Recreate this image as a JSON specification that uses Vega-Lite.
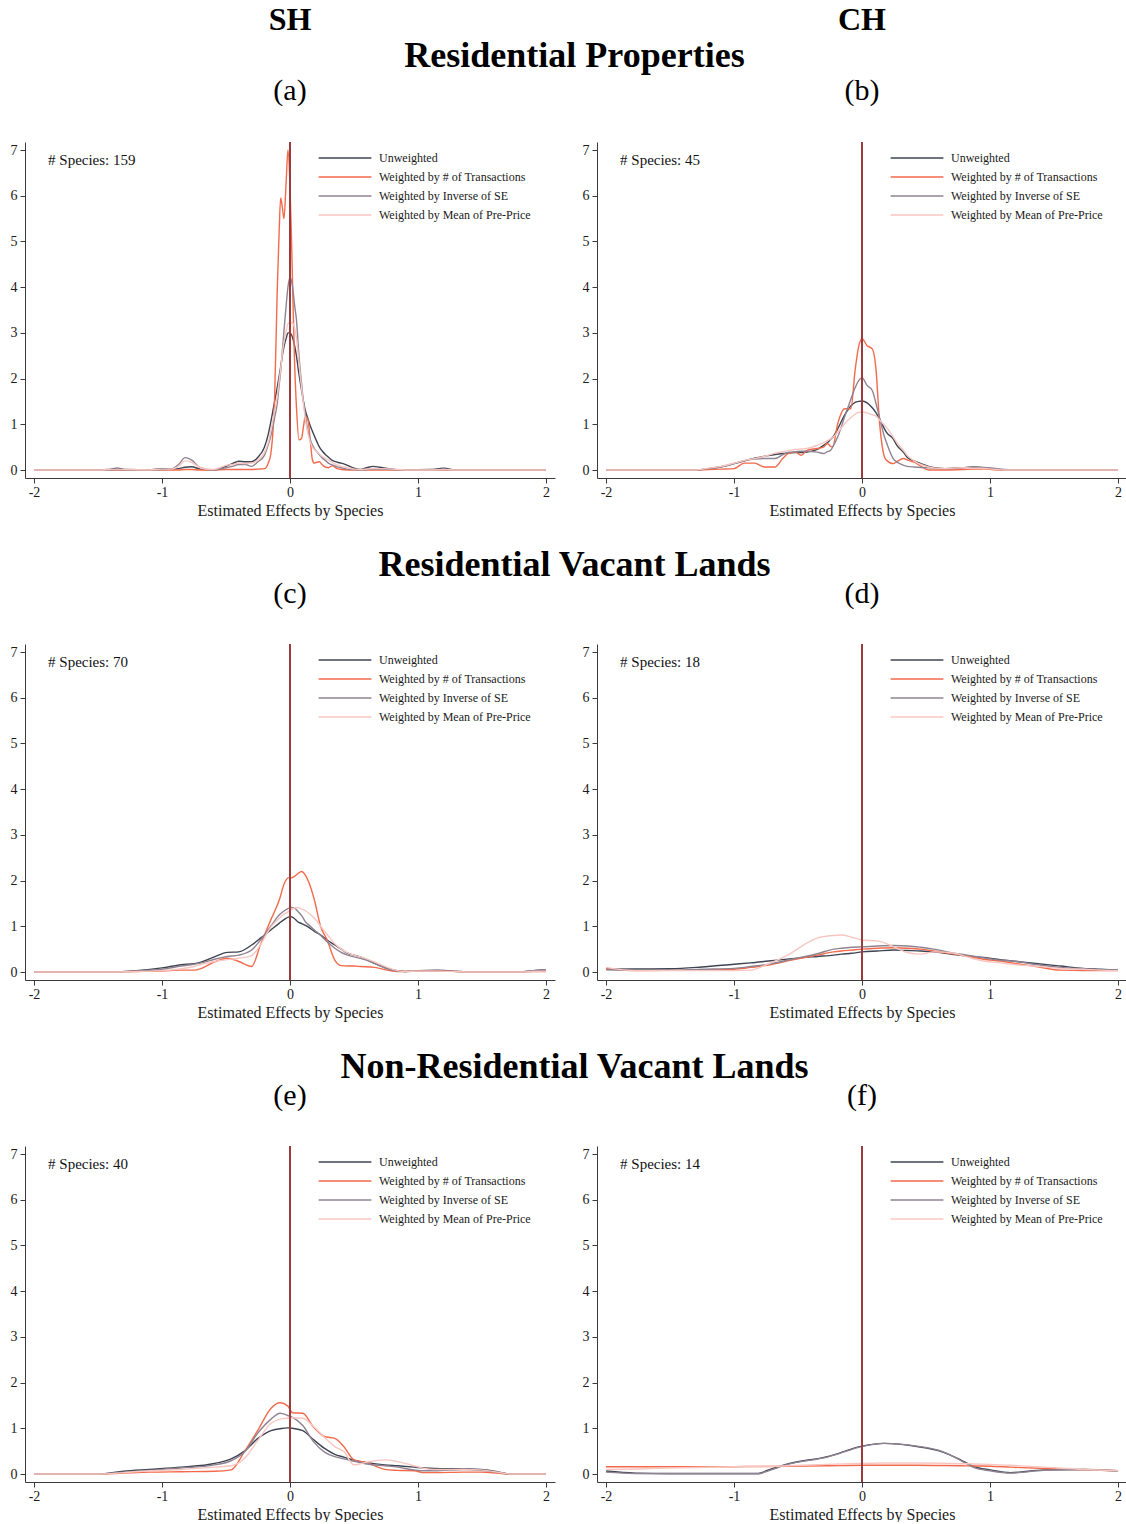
{
"$schema": "https://vega.github.io/schema/vega-lite/v6.json",
"background": "white",
"padding": {"left": 10, "top": 4, "right": 0, "bottom": 0},
"datasets": {
"info": [{"p":"a","label":"# Species: 159"},{"p":"b","label":"# Species: 45"},{"p":"c","label":"# Species: 70"},{"p":"d","label":"# Species: 18"},{"p":"e","label":"# Species: 40"},{"p":"f","label":"# Species: 14"}],
"dens": [
{"p":"a","x":-2,"u":0,"t":0,"i":0,"m":0},
{"p":"a","x":-1.5,"u":0,"t":0,"i":0,"m":0},
{"p":"a","x":-1.42,"u":0.01,"t":0,"i":0,"m":0.01},
{"p":"a","x":-1.35,"u":0.04,"t":0,"i":0.01,"m":0.02},
{"p":"a","x":-1.28,"u":0.01,"t":0,"i":0,"m":0.01},
{"p":"a","x":-1.1,"u":0,"t":0,"i":0,"m":0},
{"p":"a","x":-1.0,"u":0.03,"t":0,"i":0.01,"m":0.02},
{"p":"a","x":-0.93,"u":0.02,"t":0,"i":0.02,"m":0.02},
{"p":"a","x":-0.87,"u":0.03,"t":0,"i":0.12,"m":0.08},
{"p":"a","x":-0.82,"u":0.06,"t":0.01,"i":0.27,"m":0.2},
{"p":"a","x":-0.77,"u":0.07,"t":0.01,"i":0.22,"m":0.17},
{"p":"a","x":-0.7,"u":0.02,"t":0,"i":0.05,"m":0.05},
{"p":"a","x":-0.6,"u":0,"t":0,"i":0,"m":0.01},
{"p":"a","x":-0.5,"u":0.08,"t":0.01,"i":0.05,"m":0.1},
{"p":"a","x":-0.45,"u":0.14,"t":0.01,"i":0.08,"m":0.12},
{"p":"a","x":-0.4,"u":0.19,"t":0.01,"i":0.12,"m":0.15},
{"p":"a","x":-0.35,"u":0.18,"t":0.01,"i":0.12,"m":0.14},
{"p":"a","x":-0.3,"u":0.18,"t":0.01,"i":0.08,"m":0.15},
{"p":"a","x":-0.25,"u":0.28,"t":0.02,"i":0.18,"m":0.22},
{"p":"a","x":-0.2,"u":0.5,"t":0.03,"i":0.32,"m":0.38},
{"p":"a","x":-0.17,"u":0.78,"t":0.15,"i":0.55,"m":0.6},
{"p":"a","x":-0.15,"u":1.05,"t":0.35,"i":0.75,"m":0.85},
{"p":"a","x":-0.12,"u":1.5,"t":1.6,"i":1.15,"m":1.3},
{"p":"a","x":-0.1,"u":1.8,"t":3.9,"i":1.45,"m":1.6},
{"p":"a","x":-0.085,"u":2.05,"t":5.2,"i":1.85,"m":1.95},
{"p":"a","x":-0.073,"u":2.25,"t":5.95,"i":2.15,"m":2.2},
{"p":"a","x":-0.06,"u":2.5,"t":5.75,"i":2.6,"m":2.55},
{"p":"a","x":-0.047,"u":2.7,"t":5.5,"i":3.05,"m":2.8},
{"p":"a","x":-0.03,"u":2.88,"t":6.3,"i":3.6,"m":3.05},
{"p":"a","x":-0.016,"u":3.0,"t":7.0,"i":4.0,"m":3.2},
{"p":"a","x":0,"u":3.0,"t":6.2,"i":4.22,"m":3.22},
{"p":"a","x":0.01,"u":2.97,"t":5.25,"i":4.15,"m":3.22},
{"p":"a","x":0.025,"u":2.85,"t":3.5,"i":3.9,"m":3.2},
{"p":"a","x":0.036,"u":2.72,"t":2.33,"i":3.6,"m":3.1},
{"p":"a","x":0.05,"u":2.5,"t":1.4,"i":3.3,"m":2.9},
{"p":"a","x":0.07,"u":2.1,"t":0.66,"i":2.5,"m":2.35},
{"p":"a","x":0.09,"u":1.75,"t":0.69,"i":1.9,"m":1.8},
{"p":"a","x":0.105,"u":1.5,"t":0.95,"i":1.5,"m":1.45},
{"p":"a","x":0.12,"u":1.3,"t":1.17,"i":1.2,"m":1.1},
{"p":"a","x":0.14,"u":1.12,"t":1.1,"i":0.85,"m":0.8},
{"p":"a","x":0.16,"u":0.95,"t":0.6,"i":0.65,"m":0.6},
{"p":"a","x":0.175,"u":0.85,"t":0.22,"i":0.55,"m":0.5},
{"p":"a","x":0.19,"u":0.75,"t":0.15,"i":0.47,"m":0.45},
{"p":"a","x":0.21,"u":0.62,"t":0.17,"i":0.4,"m":0.4},
{"p":"a","x":0.23,"u":0.5,"t":0.18,"i":0.33,"m":0.35},
{"p":"a","x":0.25,"u":0.42,"t":0.12,"i":0.27,"m":0.3},
{"p":"a","x":0.28,"u":0.33,"t":0.06,"i":0.2,"m":0.25},
{"p":"a","x":0.3,"u":0.28,"t":0.05,"i":0.15,"m":0.22},
{"p":"a","x":0.33,"u":0.21,"t":0.09,"i":0.11,"m":0.16},
{"p":"a","x":0.37,"u":0.17,"t":0.03,"i":0.07,"m":0.11},
{"p":"a","x":0.4,"u":0.15,"t":0.01,"i":0.05,"m":0.08},
{"p":"a","x":0.45,"u":0.1,"t":0,"i":0.02,"m":0.05},
{"p":"a","x":0.5,"u":0.04,"t":0,"i":0.01,"m":0.02},
{"p":"a","x":0.55,"u":0.01,"t":0,"i":0,"m":0.01},
{"p":"a","x":0.6,"u":0.05,"t":0,"i":0.01,"m":0.02},
{"p":"a","x":0.65,"u":0.08,"t":0,"i":0.02,"m":0.03},
{"p":"a","x":0.7,"u":0.06,"t":0,"i":0.02,"m":0.03},
{"p":"a","x":0.8,"u":0.02,"t":0,"i":0.01,"m":0.02},
{"p":"a","x":0.9,"u":0,"t":0,"i":0,"m":0},
{"p":"a","x":1.1,"u":0.01,"t":0,"i":0,"m":0},
{"p":"a","x":1.2,"u":0.04,"t":0,"i":0.01,"m":0.01},
{"p":"a","x":1.3,"u":0,"t":0,"i":0,"m":0},
{"p":"a","x":2,"u":0,"t":0,"i":0,"m":0},
{"p":"b","x":-2,"u":0,"t":0,"i":0,"m":0},
{"p":"b","x":-1.3,"u":0,"t":0,"i":0,"m":0},
{"p":"b","x":-1.2,"u":0.03,"t":0.01,"i":0.03,"m":0.04},
{"p":"b","x":-1.1,"u":0.07,"t":0.02,"i":0.07,"m":0.08},
{"p":"b","x":-1.0,"u":0.14,"t":0.03,"i":0.14,"m":0.15},
{"p":"b","x":-0.92,"u":0.2,"t":0.15,"i":0.2,"m":0.21},
{"p":"b","x":-0.84,"u":0.26,"t":0.15,"i":0.24,"m":0.25},
{"p":"b","x":-0.76,"u":0.3,"t":0.065,"i":0.25,"m":0.3},
{"p":"b","x":-0.68,"u":0.34,"t":0.065,"i":0.25,"m":0.37},
{"p":"b","x":-0.62,"u":0.36,"t":0.25,"i":0.33,"m":0.4},
{"p":"b","x":-0.57,"u":0.37,"t":0.37,"i":0.39,"m":0.43},
{"p":"b","x":-0.52,"u":0.38,"t":0.39,"i":0.4,"m":0.45},
{"p":"b","x":-0.475,"u":0.38,"t":0.32,"i":0.41,"m":0.46},
{"p":"b","x":-0.43,"u":0.39,"t":0.43,"i":0.41,"m":0.47},
{"p":"b","x":-0.35,"u":0.45,"t":0.47,"i":0.39,"m":0.54},
{"p":"b","x":-0.3,"u":0.54,"t":0.5,"i":0.36,"m":0.6},
{"p":"b","x":-0.27,"u":0.6,"t":0.58,"i":0.4,"m":0.64},
{"p":"b","x":-0.245,"u":0.67,"t":0.52,"i":0.43,"m":0.68},
{"p":"b","x":-0.23,"u":0.71,"t":0.5,"i":0.5,"m":0.71},
{"p":"b","x":-0.19,"u":0.9,"t":1.01,"i":0.72,"m":0.82},
{"p":"b","x":-0.136,"u":1.2,"t":1.34,"i":1.16,"m":1.01},
{"p":"b","x":-0.087,"u":1.4,"t":1.34,"i":1.55,"m":1.15},
{"p":"b","x":-0.054,"u":1.48,"t":2.18,"i":1.8,"m":1.22},
{"p":"b","x":-0.027,"u":1.5,"t":2.69,"i":1.95,"m":1.26},
{"p":"b","x":0,"u":1.51,"t":2.87,"i":2.02,"m":1.27},
{"p":"b","x":0.04,"u":1.47,"t":2.72,"i":1.85,"m":1.25},
{"p":"b","x":0.08,"u":1.36,"t":2.65,"i":1.74,"m":1.21},
{"p":"b","x":0.11,"u":1.25,"t":2.18,"i":1.45,"m":1.18},
{"p":"b","x":0.136,"u":1.12,"t":1.08,"i":1.16,"m":1.1},
{"p":"b","x":0.176,"u":0.9,"t":0.28,"i":0.72,"m":0.98},
{"p":"b","x":0.19,"u":0.83,"t":0.22,"i":0.61,"m":0.94},
{"p":"b","x":0.244,"u":0.68,"t":0.14,"i":0.25,"m":0.72},
{"p":"b","x":0.27,"u":0.55,"t":0.18,"i":0.18,"m":0.61},
{"p":"b","x":0.326,"u":0.38,"t":0.25,"i":0.1,"m":0.42},
{"p":"b","x":0.353,"u":0.28,"t":0.22,"i":0.08,"m":0.32},
{"p":"b","x":0.407,"u":0.2,"t":0.17,"i":0.065,"m":0.2},
{"p":"b","x":0.46,"u":0.14,"t":0.08,"i":0.055,"m":0.12},
{"p":"b","x":0.52,"u":0.08,"t":0,"i":0.05,"m":0.065},
{"p":"b","x":0.57,"u":0.05,"t":0,"i":0.04,"m":0.04},
{"p":"b","x":0.65,"u":0.03,"t":0,"i":0.03,"m":0.03},
{"p":"b","x":0.79,"u":0.05,"t":0.01,"i":0.05,"m":0.05},
{"p":"b","x":0.87,"u":0.065,"t":0.02,"i":0.065,"m":0.04},
{"p":"b","x":0.98,"u":0.04,"t":0.02,"i":0.05,"m":0.03},
{"p":"b","x":1.05,"u":0.02,"t":0,"i":0.03,"m":0.01},
{"p":"b","x":1.11,"u":0,"t":0,"i":0.01,"m":0},
{"p":"b","x":1.2,"u":0,"t":0,"i":0,"m":0},
{"p":"b","x":2,"u":0,"t":0,"i":0,"m":0},
{"p":"c","x":-2,"u":0,"t":0,"i":0,"m":0},
{"p":"c","x":-1.4,"u":0,"t":0,"i":0,"m":0},
{"p":"c","x":-1.2,"u":0.03,"t":0.01,"i":0.02,"m":0.01},
{"p":"c","x":-1.0,"u":0.09,"t":0.02,"i":0.06,"m":0.03},
{"p":"c","x":-0.85,"u":0.16,"t":0.04,"i":0.13,"m":0.07},
{"p":"c","x":-0.75,"u":0.18,"t":0.04,"i":0.17,"m":0.12},
{"p":"c","x":-0.69,"u":0.22,"t":0.08,"i":0.2,"m":0.17},
{"p":"c","x":-0.59,"u":0.33,"t":0.22,"i":0.28,"m":0.23},
{"p":"c","x":-0.49,"u":0.43,"t":0.3,"i":0.34,"m":0.27},
{"p":"c","x":-0.4,"u":0.44,"t":0.23,"i":0.37,"m":0.3},
{"p":"c","x":-0.3,"u":0.59,"t":0.12,"i":0.48,"m":0.36},
{"p":"c","x":-0.23,"u":0.74,"t":0.6,"i":0.7,"m":0.6},
{"p":"c","x":-0.15,"u":0.92,"t":1.14,"i":1.0,"m":0.98},
{"p":"c","x":-0.083,"u":1.07,"t":1.58,"i":1.25,"m":1.18},
{"p":"c","x":-0.044,"u":1.15,"t":1.94,"i":1.34,"m":1.27},
{"p":"c","x":-0.013,"u":1.2,"t":2.06,"i":1.39,"m":1.32},
{"p":"c","x":0.01,"u":1.21,"t":2.06,"i":1.41,"m":1.36},
{"p":"c","x":0.034,"u":1.17,"t":2.09,"i":1.4,"m":1.4},
{"p":"c","x":0.06,"u":1.1,"t":2.15,"i":1.33,"m":1.41},
{"p":"c","x":0.09,"u":1.06,"t":2.2,"i":1.24,"m":1.38},
{"p":"c","x":0.12,"u":1.02,"t":2.12,"i":1.1,"m":1.34},
{"p":"c","x":0.15,"u":0.97,"t":1.94,"i":1.02,"m":1.28},
{"p":"c","x":0.19,"u":0.89,"t":1.58,"i":0.92,"m":1.18},
{"p":"c","x":0.24,"u":0.81,"t":0.99,"i":0.8,"m":1.0},
{"p":"c","x":0.29,"u":0.7,"t":0.7,"i":0.66,"m":0.82},
{"p":"c","x":0.35,"u":0.59,"t":0.26,"i":0.52,"m":0.62},
{"p":"c","x":0.4,"u":0.5,"t":0.14,"i":0.43,"m":0.5},
{"p":"c","x":0.45,"u":0.41,"t":0.13,"i":0.37,"m":0.42},
{"p":"c","x":0.5,"u":0.37,"t":0.13,"i":0.33,"m":0.37},
{"p":"c","x":0.55,"u":0.33,"t":0.12,"i":0.3,"m":0.33},
{"p":"c","x":0.66,"u":0.19,"t":0.1,"i":0.19,"m":0.22},
{"p":"c","x":0.76,"u":0.08,"t":0.04,"i":0.07,"m":0.1},
{"p":"c","x":0.84,"u":0.03,"t":0.01,"i":0.02,"m":0.03},
{"p":"c","x":0.9,"u":0.01,"t":0.01,"i":0.01,"m":0.01},
{"p":"c","x":1.0,"u":0.03,"t":0.03,"i":0.02,"m":0.02},
{"p":"c","x":1.15,"u":0.04,"t":0.03,"i":0.02,"m":0.02},
{"p":"c","x":1.3,"u":0.02,"t":0.01,"i":0.01,"m":0.01},
{"p":"c","x":1.4,"u":0,"t":0,"i":0,"m":0},
{"p":"c","x":1.8,"u":0,"t":0,"i":0,"m":0},
{"p":"c","x":1.9,"u":0.03,"t":0.01,"i":0.03,"m":0.01},
{"p":"c","x":2.0,"u":0.05,"t":0.01,"i":0.05,"m":0.02},
{"p":"d","x":-2,"u":0.06,"t":0.08,"i":0.05,"m":0.1},
{"p":"d","x":-1.77,"u":0.065,"t":0.03,"i":0.04,"m":0.03},
{"p":"d","x":-1.5,"u":0.07,"t":0.035,"i":0.04,"m":0.03},
{"p":"d","x":-1.25,"u":0.11,"t":0.04,"i":0.06,"m":0.03},
{"p":"d","x":-1.0,"u":0.17,"t":0.06,"i":0.08,"m":0.03},
{"p":"d","x":-0.87,"u":0.2,"t":0.1,"i":0.12,"m":0.04},
{"p":"d","x":-0.73,"u":0.24,"t":0.15,"i":0.17,"m":0.18},
{"p":"d","x":-0.55,"u":0.29,"t":0.26,"i":0.28,"m":0.42},
{"p":"d","x":-0.48,"u":0.31,"t":0.3,"i":0.32,"m":0.55},
{"p":"d","x":-0.35,"u":0.34,"t":0.37,"i":0.4,"m":0.74},
{"p":"d","x":-0.22,"u":0.37,"t":0.44,"i":0.5,"m":0.8},
{"p":"d","x":-0.16,"u":0.39,"t":0.46,"i":0.52,"m":0.81},
{"p":"d","x":-0.08,"u":0.41,"t":0.48,"i":0.54,"m":0.76},
{"p":"d","x":0,"u":0.44,"t":0.5,"i":0.55,"m":0.7},
{"p":"d","x":0.12,"u":0.46,"t":0.52,"i":0.57,"m":0.68},
{"p":"d","x":0.25,"u":0.48,"t":0.53,"i":0.58,"m":0.55},
{"p":"d","x":0.36,"u":0.47,"t":0.52,"i":0.57,"m":0.42},
{"p":"d","x":0.46,"u":0.46,"t":0.5,"i":0.54,"m":0.39},
{"p":"d","x":0.56,"u":0.44,"t":0.46,"i":0.5,"m":0.44},
{"p":"d","x":0.72,"u":0.38,"t":0.39,"i":0.41,"m":0.41},
{"p":"d","x":0.82,"u":0.35,"t":0.35,"i":0.37,"m":0.33},
{"p":"d","x":0.95,"u":0.32,"t":0.28,"i":0.31,"m":0.24},
{"p":"d","x":1.08,"u":0.27,"t":0.24,"i":0.26,"m":0.2},
{"p":"d","x":1.21,"u":0.23,"t":0.18,"i":0.23,"m":0.16},
{"p":"d","x":1.34,"u":0.19,"t":0.13,"i":0.17,"m":0.13},
{"p":"d","x":1.55,"u":0.13,"t":0.04,"i":0.1,"m":0.08},
{"p":"d","x":1.73,"u":0.08,"t":0.03,"i":0.07,"m":0.06},
{"p":"d","x":1.86,"u":0.06,"t":0.03,"i":0.05,"m":0.04},
{"p":"d","x":2.0,"u":0.04,"t":0.03,"i":0.04,"m":0.03},
{"p":"e","x":-2,"u":0,"t":0,"i":0,"m":0},
{"p":"e","x":-1.5,"u":0,"t":0,"i":0,"m":0},
{"p":"e","x":-1.3,"u":0.06,"t":0.02,"i":0.04,"m":0.03},
{"p":"e","x":-1.1,"u":0.1,"t":0.04,"i":0.08,"m":0.07},
{"p":"e","x":-0.85,"u":0.15,"t":0.05,"i":0.13,"m":0.1},
{"p":"e","x":-0.59,"u":0.23,"t":0.06,"i":0.2,"m":0.15},
{"p":"e","x":-0.46,"u":0.33,"t":0.09,"i":0.29,"m":0.18},
{"p":"e","x":-0.356,"u":0.5,"t":0.49,"i":0.48,"m":0.34},
{"p":"e","x":-0.25,"u":0.78,"t":0.96,"i":0.9,"m":0.74},
{"p":"e","x":-0.148,"u":0.95,"t":1.44,"i":1.2,"m":1.11},
{"p":"e","x":-0.078,"u":0.99,"t":1.56,"i":1.33,"m":1.2},
{"p":"e","x":-0.018,"u":1.01,"t":1.49,"i":1.28,"m":1.22},
{"p":"e","x":0.02,"u":1.0,"t":1.34,"i":1.24,"m":1.23},
{"p":"e","x":0.1,"u":0.95,"t":1.33,"i":1.06,"m":1.22},
{"p":"e","x":0.18,"u":0.76,"t":1.04,"i":0.72,"m":1.05},
{"p":"e","x":0.27,"u":0.56,"t":0.82,"i":0.48,"m":0.8},
{"p":"e","x":0.35,"u":0.43,"t":0.78,"i":0.38,"m":0.6},
{"p":"e","x":0.42,"u":0.37,"t":0.6,"i":0.33,"m":0.49},
{"p":"e","x":0.5,"u":0.3,"t":0.31,"i":0.28,"m":0.2},
{"p":"e","x":0.6,"u":0.25,"t":0.25,"i":0.22,"m":0.26},
{"p":"e","x":0.74,"u":0.2,"t":0.1,"i":0.18,"m":0.31},
{"p":"e","x":0.84,"u":0.18,"t":0.08,"i":0.15,"m":0.27},
{"p":"e","x":0.97,"u":0.15,"t":0.07,"i":0.09,"m":0.18},
{"p":"e","x":1.05,"u":0.13,"t":0.03,"i":0.07,"m":0.12},
{"p":"e","x":1.13,"u":0.12,"t":0.03,"i":0.07,"m":0.1},
{"p":"e","x":1.36,"u":0.11,"t":0.04,"i":0.1,"m":0.1},
{"p":"e","x":1.49,"u":0.1,"t":0.04,"i":0.08,"m":0.09},
{"p":"e","x":1.62,"u":0.05,"t":0.02,"i":0.04,"m":0.04},
{"p":"e","x":1.72,"u":0,"t":0,"i":0,"m":0},
{"p":"e","x":2,"u":0,"t":0,"i":0,"m":0},
{"p":"f","x":-2,"u":0.066,"t":0.16,"i":0.04,"m":0.1},
{"p":"f","x":-1.77,"u":0.02,"t":0.16,"i":0.01,"m":0.11},
{"p":"f","x":-1.5,"u":0.01,"t":0.16,"i":0.005,"m":0.13},
{"p":"f","x":-1.0,"u":0.01,"t":0.16,"i":0.005,"m":0.16},
{"p":"f","x":-0.81,"u":0.01,"t":0.165,"i":0.005,"m":0.17},
{"p":"f","x":-0.73,"u":0.09,"t":0.165,"i":0.07,"m":0.17},
{"p":"f","x":-0.58,"u":0.22,"t":0.17,"i":0.21,"m":0.18},
{"p":"f","x":-0.27,"u":0.38,"t":0.18,"i":0.37,"m":0.21},
{"p":"f","x":0,"u":0.61,"t":0.19,"i":0.6,"m":0.23},
{"p":"f","x":0.17,"u":0.67,"t":0.19,"i":0.67,"m":0.24},
{"p":"f","x":0.43,"u":0.6,"t":0.19,"i":0.61,"m":0.24},
{"p":"f","x":0.62,"u":0.49,"t":0.185,"i":0.5,"m":0.235},
{"p":"f","x":0.77,"u":0.31,"t":0.18,"i":0.3,"m":0.225},
{"p":"f","x":0.875,"u":0.16,"t":0.175,"i":0.14,"m":0.22},
{"p":"f","x":1.0,"u":0.09,"t":0.17,"i":0.07,"m":0.21},
{"p":"f","x":1.16,"u":0.03,"t":0.15,"i":0.02,"m":0.19},
{"p":"f","x":1.42,"u":0.09,"t":0.12,"i":0.08,"m":0.15},
{"p":"f","x":1.73,"u":0.1,"t":0.09,"i":0.1,"m":0.1},
{"p":"f","x":2.0,"u":0.07,"t":0.07,"i":0.06,"m":0.07}
]
},
"spacing": 29,
"resolve": {"scale": {"color": "independent", "x": "independent", "y": "independent"}, "legend": {"color": "independent"}},
"vconcat": [
{
"title": {"text": "Residential Properties", "fontSize": 36, "fontWeight": "bold", "offset": -71, "frame": "bounds", "dx": 6},
"spacing": 27,
"resolve": {"scale": {"color": "independent", "x": "independent", "y": "independent"}, "legend": {"color": "independent"}},
"hconcat": [
{"title": {"text": "SH", "subtitle": "(a)", "fontSize": 32, "fontWeight": "bold", "subtitleFontSize": 30, "subtitleFontWeight": "normal", "subtitlePadding": 39, "offset": 34},
 "width": 530, "height": 336,
 "layer": [
  {"data": {"name": "dens"}, "transform": [{"filter": "datum.p == 'a'"}, {"fold": ["u","t","i","m"], "as": ["s","y"]}],
   "mark": {"type": "line", "strokeWidth": 1.4, "interpolate": "monotone"},
   "encoding": {
    "x": {"field": "x", "type": "quantitative", "scale": {"domain": [-2.07, 2.07], "nice": false, "zero": false}, "axis": {"values": [-2,-1,0,1,2], "labelExpr": "'' + datum.value", "title": "Estimated Effects by Species"}},
    "y": {"field": "y", "type": "quantitative", "scale": {"domain": [-0.175, 7.175], "nice": false, "zero": false}, "axis": {"values": [0,1,2,3,4,5,6,7], "labelExpr": "'' + datum.value", "title": null}},
    "color": {"field": "s", "type": "nominal", "scale": {"domain": ["u","t","i","m"], "range": ["#3f4453","#f26a4b","#8f8392","#f8c6c0"]}, "legend": {"title": null, "orient": "none", "legendX": 311, "legendY": 7, "labelExpr": "datum.label == 'u' ? 'Unweighted' : datum.label == 't' ? 'Weighted by # of Transactions' : datum.label == 'i' ? 'Weighted by Inverse of SE' : 'Weighted by Mean of Pre-Price'"}}
   }},
  {"data": {"name": "info"}, "transform": [{"filter": "datum.p == 'a'"}], "mark": {"type": "rule", "color": "#9c3b3b", "strokeWidth": 2}, "encoding": {"x": {"datum": 0}}},
  {"data": {"name": "info"}, "transform": [{"filter": "datum.p == 'a'"}], "mark": {"type": "text", "align": "left", "baseline": "middle", "fontSize": 15, "color": "#111"}, "encoding": {"x": {"datum": -1.89}, "y": {"datum": 6.78}, "text": {"field": "label"}}}
 ]},
{"title": {"text": "CH", "subtitle": "(b)", "fontSize": 32, "fontWeight": "bold", "subtitleFontSize": 30, "subtitleFontWeight": "normal", "subtitlePadding": 39, "offset": 34},
 "width": 530, "height": 336,
 "layer": [
  {"data": {"name": "dens"}, "transform": [{"filter": "datum.p == 'b'"}, {"fold": ["u","t","i","m"], "as": ["s","y"]}],
   "mark": {"type": "line", "strokeWidth": 1.4, "interpolate": "monotone"},
   "encoding": {
    "x": {"field": "x", "type": "quantitative", "scale": {"domain": [-2.07, 2.07], "nice": false, "zero": false}, "axis": {"values": [-2,-1,0,1,2], "labelExpr": "'' + datum.value", "title": "Estimated Effects by Species"}},
    "y": {"field": "y", "type": "quantitative", "scale": {"domain": [-0.175, 7.175], "nice": false, "zero": false}, "axis": {"values": [0,1,2,3,4,5,6,7], "labelExpr": "'' + datum.value", "title": null}},
    "color": {"field": "s", "type": "nominal", "scale": {"domain": ["u","t","i","m"], "range": ["#3f4453","#f26a4b","#8f8392","#f8c6c0"]}, "legend": {"title": null, "orient": "none", "legendX": 311, "legendY": 7, "labelExpr": "datum.label == 'u' ? 'Unweighted' : datum.label == 't' ? 'Weighted by # of Transactions' : datum.label == 'i' ? 'Weighted by Inverse of SE' : 'Weighted by Mean of Pre-Price'"}}
   }},
  {"data": {"name": "info"}, "transform": [{"filter": "datum.p == 'b'"}], "mark": {"type": "rule", "color": "#9c3b3b", "strokeWidth": 2}, "encoding": {"x": {"datum": 0}}},
  {"data": {"name": "info"}, "transform": [{"filter": "datum.p == 'b'"}], "mark": {"type": "text", "align": "left", "baseline": "middle", "fontSize": 15, "color": "#111"}, "encoding": {"x": {"datum": -1.89}, "y": {"datum": 6.78}, "text": {"field": "label"}}}
 ]}
]
},
{
"title": {"text": "Residential Vacant Lands", "fontSize": 36, "fontWeight": "bold", "offset": -5, "frame": "bounds", "dx": 6},
"spacing": 27,
"resolve": {"scale": {"color": "independent", "x": "independent", "y": "independent"}, "legend": {"color": "independent"}},
"hconcat": [
{"title": {"text": "(c)", "fontSize": 30, "fontWeight": "normal", "offset": 34},
 "width": 530, "height": 336,
 "layer": [
  {"data": {"name": "dens"}, "transform": [{"filter": "datum.p == 'c'"}, {"fold": ["u","t","i","m"], "as": ["s","y"]}],
   "mark": {"type": "line", "strokeWidth": 1.4, "interpolate": "monotone"},
   "encoding": {
    "x": {"field": "x", "type": "quantitative", "scale": {"domain": [-2.07, 2.07], "nice": false, "zero": false}, "axis": {"values": [-2,-1,0,1,2], "labelExpr": "'' + datum.value", "title": "Estimated Effects by Species"}},
    "y": {"field": "y", "type": "quantitative", "scale": {"domain": [-0.175, 7.175], "nice": false, "zero": false}, "axis": {"values": [0,1,2,3,4,5,6,7], "labelExpr": "'' + datum.value", "title": null}},
    "color": {"field": "s", "type": "nominal", "scale": {"domain": ["u","t","i","m"], "range": ["#3f4453","#f26a4b","#8f8392","#f8c6c0"]}, "legend": {"title": null, "orient": "none", "legendX": 311, "legendY": 7, "labelExpr": "datum.label == 'u' ? 'Unweighted' : datum.label == 't' ? 'Weighted by # of Transactions' : datum.label == 'i' ? 'Weighted by Inverse of SE' : 'Weighted by Mean of Pre-Price'"}}
   }},
  {"data": {"name": "info"}, "transform": [{"filter": "datum.p == 'c'"}], "mark": {"type": "rule", "color": "#9c3b3b", "strokeWidth": 2}, "encoding": {"x": {"datum": 0}}},
  {"data": {"name": "info"}, "transform": [{"filter": "datum.p == 'c'"}], "mark": {"type": "text", "align": "left", "baseline": "middle", "fontSize": 15, "color": "#111"}, "encoding": {"x": {"datum": -1.89}, "y": {"datum": 6.78}, "text": {"field": "label"}}}
 ]},
{"title": {"text": "(d)", "fontSize": 30, "fontWeight": "normal", "offset": 34},
 "width": 530, "height": 336,
 "layer": [
  {"data": {"name": "dens"}, "transform": [{"filter": "datum.p == 'd'"}, {"fold": ["u","t","i","m"], "as": ["s","y"]}],
   "mark": {"type": "line", "strokeWidth": 1.4, "interpolate": "monotone"},
   "encoding": {
    "x": {"field": "x", "type": "quantitative", "scale": {"domain": [-2.07, 2.07], "nice": false, "zero": false}, "axis": {"values": [-2,-1,0,1,2], "labelExpr": "'' + datum.value", "title": "Estimated Effects by Species"}},
    "y": {"field": "y", "type": "quantitative", "scale": {"domain": [-0.175, 7.175], "nice": false, "zero": false}, "axis": {"values": [0,1,2,3,4,5,6,7], "labelExpr": "'' + datum.value", "title": null}},
    "color": {"field": "s", "type": "nominal", "scale": {"domain": ["u","t","i","m"], "range": ["#3f4453","#f26a4b","#8f8392","#f8c6c0"]}, "legend": {"title": null, "orient": "none", "legendX": 311, "legendY": 7, "labelExpr": "datum.label == 'u' ? 'Unweighted' : datum.label == 't' ? 'Weighted by # of Transactions' : datum.label == 'i' ? 'Weighted by Inverse of SE' : 'Weighted by Mean of Pre-Price'"}}
   }},
  {"data": {"name": "info"}, "transform": [{"filter": "datum.p == 'd'"}], "mark": {"type": "rule", "color": "#9c3b3b", "strokeWidth": 2}, "encoding": {"x": {"datum": 0}}},
  {"data": {"name": "info"}, "transform": [{"filter": "datum.p == 'd'"}], "mark": {"type": "text", "align": "left", "baseline": "middle", "fontSize": 15, "color": "#111"}, "encoding": {"x": {"datum": -1.89}, "y": {"datum": 6.78}, "text": {"field": "label"}}}
 ]}
]
},
{
"title": {"text": "Non-Residential Vacant Lands", "fontSize": 36, "fontWeight": "bold", "offset": -5, "frame": "bounds", "dx": 6},
"spacing": 27,
"resolve": {"scale": {"color": "independent", "x": "independent", "y": "independent"}, "legend": {"color": "independent"}},
"hconcat": [
{"title": {"text": "(e)", "fontSize": 30, "fontWeight": "normal", "offset": 34},
 "width": 530, "height": 336,
 "layer": [
  {"data": {"name": "dens"}, "transform": [{"filter": "datum.p == 'e'"}, {"fold": ["u","t","i","m"], "as": ["s","y"]}],
   "mark": {"type": "line", "strokeWidth": 1.4, "interpolate": "monotone"},
   "encoding": {
    "x": {"field": "x", "type": "quantitative", "scale": {"domain": [-2.07, 2.07], "nice": false, "zero": false}, "axis": {"values": [-2,-1,0,1,2], "labelExpr": "'' + datum.value", "title": "Estimated Effects by Species"}},
    "y": {"field": "y", "type": "quantitative", "scale": {"domain": [-0.175, 7.175], "nice": false, "zero": false}, "axis": {"values": [0,1,2,3,4,5,6,7], "labelExpr": "'' + datum.value", "title": null}},
    "color": {"field": "s", "type": "nominal", "scale": {"domain": ["u","t","i","m"], "range": ["#3f4453","#f26a4b","#8f8392","#f8c6c0"]}, "legend": {"title": null, "orient": "none", "legendX": 311, "legendY": 7, "labelExpr": "datum.label == 'u' ? 'Unweighted' : datum.label == 't' ? 'Weighted by # of Transactions' : datum.label == 'i' ? 'Weighted by Inverse of SE' : 'Weighted by Mean of Pre-Price'"}}
   }},
  {"data": {"name": "info"}, "transform": [{"filter": "datum.p == 'e'"}], "mark": {"type": "rule", "color": "#9c3b3b", "strokeWidth": 2}, "encoding": {"x": {"datum": 0}}},
  {"data": {"name": "info"}, "transform": [{"filter": "datum.p == 'e'"}], "mark": {"type": "text", "align": "left", "baseline": "middle", "fontSize": 15, "color": "#111"}, "encoding": {"x": {"datum": -1.89}, "y": {"datum": 6.78}, "text": {"field": "label"}}}
 ]},
{"title": {"text": "(f)", "fontSize": 30, "fontWeight": "normal", "offset": 34},
 "width": 530, "height": 336,
 "layer": [
  {"data": {"name": "dens"}, "transform": [{"filter": "datum.p == 'f'"}, {"fold": ["u","t","i","m"], "as": ["s","y"]}],
   "mark": {"type": "line", "strokeWidth": 1.4, "interpolate": "monotone"},
   "encoding": {
    "x": {"field": "x", "type": "quantitative", "scale": {"domain": [-2.07, 2.07], "nice": false, "zero": false}, "axis": {"values": [-2,-1,0,1,2], "labelExpr": "'' + datum.value", "title": "Estimated Effects by Species"}},
    "y": {"field": "y", "type": "quantitative", "scale": {"domain": [-0.175, 7.175], "nice": false, "zero": false}, "axis": {"values": [0,1,2,3,4,5,6,7], "labelExpr": "'' + datum.value", "title": null}},
    "color": {"field": "s", "type": "nominal", "scale": {"domain": ["u","t","i","m"], "range": ["#3f4453","#f26a4b","#8f8392","#f8c6c0"]}, "legend": {"title": null, "orient": "none", "legendX": 311, "legendY": 7, "labelExpr": "datum.label == 'u' ? 'Unweighted' : datum.label == 't' ? 'Weighted by # of Transactions' : datum.label == 'i' ? 'Weighted by Inverse of SE' : 'Weighted by Mean of Pre-Price'"}}
   }},
  {"data": {"name": "info"}, "transform": [{"filter": "datum.p == 'f'"}], "mark": {"type": "rule", "color": "#9c3b3b", "strokeWidth": 2}, "encoding": {"x": {"datum": 0}}},
  {"data": {"name": "info"}, "transform": [{"filter": "datum.p == 'f'"}], "mark": {"type": "text", "align": "left", "baseline": "middle", "fontSize": 15, "color": "#111"}, "encoding": {"x": {"datum": -1.89}, "y": {"datum": 6.78}, "text": {"field": "label"}}}
 ]}
]
}
],
"config": {
 "font": "Liberation Serif",
 "view": {"stroke": null},
 "axis": {"grid": false, "domainColor": "#3a3a3a", "tickColor": "#3a3a3a", "labelColor": "#1a1a1a", "titleColor": "#1a1a1a", "labelFontSize": 14, "titleFontSize": 16, "titleFontWeight": "normal", "tickSize": 5, "labelPadding": 2, "domainWidth": 1, "tickWidth": 1, "labelFont": "Liberation Serif", "titleFont": "Liberation Serif"},
 "axisX": {"titlePadding": 3},
 "axisY": {"labelPadding": 3},
 "legend": {"symbolType": "M-3.3,0H3.3", "symbolSize": 256, "symbolStrokeWidth": 1.5, "labelFontSize": 12, "labelOffset": 25, "rowPadding": 4, "padding": 0, "labelColor": "#1a1a1a", "labelFont": "Liberation Serif", "labelLimit": 400},
 "title": {"color": "#000", "subtitleColor": "#000", "font": "Liberation Serif", "subtitleFont": "Liberation Serif", "anchor": "middle", "frame": "group"}
}
}
